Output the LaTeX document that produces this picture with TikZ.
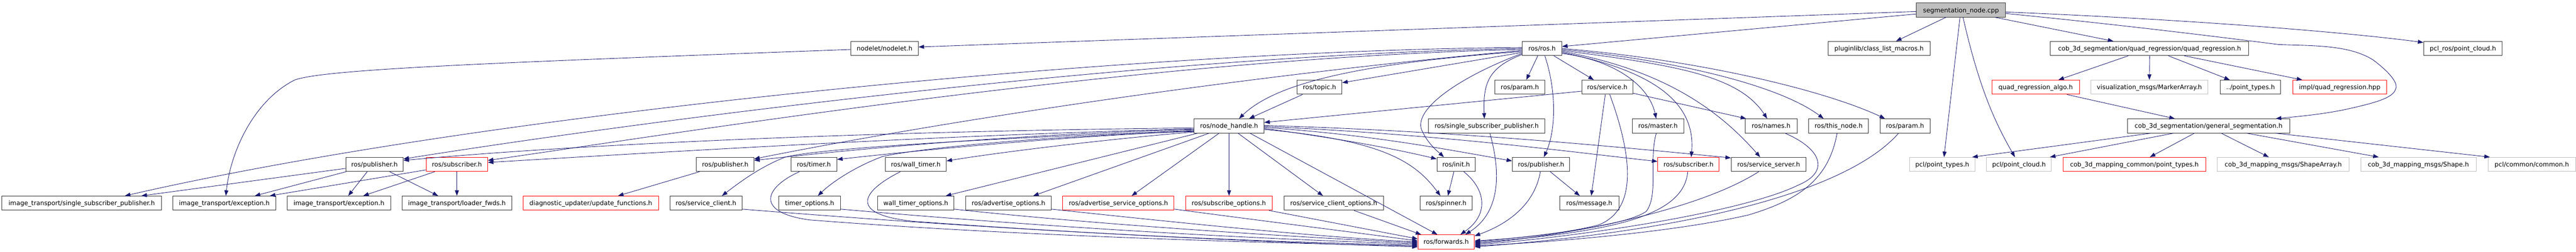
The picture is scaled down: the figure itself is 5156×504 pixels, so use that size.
\documentclass[tikz,border=0pt]{standalone}
\usepackage{fontspec}
\setmainfont{DejaVu Sans}
\usetikzlibrary{arrows.meta,calc}
\definecolor{edgec}{HTML}{191970}
\definecolor{bk}{HTML}{333333}
\definecolor{lg}{HTML}{BFBFBF}
\begin{document}
\begin{tikzpicture}[x=1pt,y=-1pt,
 box/.style={draw=bk,line width=1pt,rectangle,minimum height=28.3pt,inner sep=0pt,text height=9.5pt,text depth=0pt,font=\fontsize{12.6pt}{14pt}\selectfont},
 redbox/.style={box,draw=red},
 graybox/.style={box,draw=lg},
 arr/.style={draw=edgec,line width=0.9pt,-{Triangle[length=11pt,width=8pt]}}]
\useasboundingbox (0,0) rectangle (5156,504);
% row 0
\node[box,fill=lg,minimum width=178pt] (seg) at (3925,20) {segmentation\_node.cpp};
% row 1
\node[box,minimum width=135pt] (nodelet) at (1770.5,97) {nodelet/nodelet.h};
\node[box,minimum width=79pt] (ros) at (3086.5,97) {ros/ros.h};
\node[box,minimum width=204pt] (plugin) at (3761,97) {pluginlib/class\_list\_macros.h};
\node[box,minimum width=397pt] (quad) at (4302.5,97) {cob\_3d\_segmentation/quad\_regression/quad\_regression.h};
\node[box,minimum width=157pt] (pclros) at (4929.5,97) {pcl\_ros/point\_cloud.h};
% row 2
\node[box,minimum width=90pt] (topic) at (2641,174.5) {ros/topic.h};
\node[box,minimum width=100pt] (paramA) at (3042,174.5) {ros/param.h};
\node[box,minimum width=102pt] (service) at (3217,174.5) {ros/service.h};
\node[redbox,minimum width=175pt] (qalgo) at (4074.5,174.5) {quad\_regression\_algo.h};
\node[graybox,minimum width=234pt] (viz) at (4302,174.5) {visualization\_msgs/MarkerArray.h};
\node[box,minimum width=121pt] (ptypes) at (4504.5,174.5) {../point\_types.h};
\node[redbox,minimum width=188pt] (impl) at (4683,174.5) {impl/quad\_regression.hpp};
% row 3
\node[box,minimum width=140pt] (nh) at (2460,252) {ros/node\_handle.h};
\node[box,minimum width=233pt] (ssp) at (2975.5,252) {ros/single\_subscriber\_publisher.h};
\node[box,minimum width=103pt] (master) at (3318.5,252) {ros/master.h};
\node[box,minimum width=104pt] (names) at (3545,252) {ros/names.h};
\node[box,minimum width=120pt] (thisnode) at (3680,252) {ros/this\_node.h};
\node[box,minimum width=100pt] (paramB) at (3813,252) {ros/param.h};
\node[box,minimum width=325pt] (genseg) at (4420.5,252) {cob\_3d\_segmentation/general\_segmentation.h};
% row 4
\node[box,minimum width=115pt] (pubA) at (749.5,329) {ros/publisher.h};
\node[redbox,minimum width=123pt] (subA) at (914.5,329) {ros/subscriber.h};
\node[box,minimum width=115pt] (pubB) at (1451.5,329) {ros/publisher.h};
\node[box,minimum width=92pt] (timer) at (1629,329) {ros/timer.h};
\node[box,minimum width=122pt] (wtimer) at (1833,329) {ros/wall\_timer.h};
\node[box,minimum width=77pt] (init) at (2914.5,329) {ros/init.h};
\node[box,minimum width=115pt] (pubC) at (3084.5,329) {ros/publisher.h};
\node[redbox,minimum width=123pt] (subB) at (3379.5,329) {ros/subscriber.h};
\node[box,minimum width=150pt] (sserver) at (3540,329) {ros/service\_server.h};
\node[graybox,minimum width=131pt] (pclpt) at (3887.5,329) {pcl/point\_types.h};
\node[graybox,minimum width=130pt] (pclpc) at (4041,329) {pcl/point\_cloud.h};
\node[redbox,minimum width=286pt] (cobpt) at (4272,329) {cob\_3d\_mapping\_common/point\_types.h};
\node[graybox,minimum width=264pt] (shapearr) at (4570,329) {cob\_3d\_mapping\_msgs/ShapeArray.h};
\node[graybox,minimum width=231pt] (shape) at (4840.5,329) {cob\_3d\_mapping\_msgs/Shape.h};
\node[graybox,minimum width=175pt] (common) at (5067.5,329) {pcl/common/common.h};
% row 5
\node[box,minimum width=319pt] (itssp) at (163.5,406.5) {image\_transport/single\_subscriber\_publisher.h};
\node[box,minimum width=206pt] (excA) at (449,406.5) {image\_transport/exception.h};
\node[box,minimum width=207pt] (excB) at (678.5,406.5) {image\_transport/exception.h};
\node[box,minimum width=219pt] (loader) at (914.5,406.5) {image\_transport/loader\_fwds.h};
\node[redbox,minimum width=271pt] (diag) at (1182.5,406.5) {diagnostic\_updater/update\_functions.h};
\node[box,minimum width=144pt] (sclient) at (1413,406.5) {ros/service\_client.h};
\node[box,minimum width=123pt] (topt) at (1620.5,406.5) {timer\_options.h};
\node[box,minimum width=152pt] (wtopt) at (1833,406.5) {wall\_timer\_options.h};
\node[box,minimum width=171pt] (aopt) at (2018.5,406.5) {ros/advertise\_options.h};
\node[redbox,minimum width=223pt] (asopt) at (2238.5,406.5) {ros/advertise\_service\_options.h};
\node[redbox,minimum width=173pt] (sopt) at (2459.5,406.5) {ros/subscribe\_options.h};
\node[box,minimum width=199pt] (scopt) at (2669.5,406.5) {ros/service\_client\_options.h};
\node[box,minimum width=105pt] (spinner) at (2894.5,406.5) {ros/spinner.h};
\node[box,minimum width=118pt] (message) at (3181,406.5) {ros/message.h};
% row 6
\node[redbox,minimum width=113pt] (fwd) at (2894.5,484) {ros/forwards.h};

% ---- edges from segmentation_node.cpp
\draw[arr] ($(seg.west)+(0,3)$) -- ($(nodelet.east)+(0,-3)$);
\draw[arr] ($(seg.west)+(0,8)$) -- ($(ros.east)+(0,-4)$);
\draw[arr] ($(seg.south)+(-30,0)$) -- ($(plugin.north)+(34,0)$);
\draw[arr] ($(seg.south)+(68,0)$) -- ($(quad.north)+(-72.5,0)$);
\draw[arr] ($(seg.east)+(0,4)$) .. controls (4400,40) and (4700,65) .. ($(pclros.west)+(0,-12)$);
\draw[arr] ($(seg.east)+(0,7)$) .. controls (4250,50) and (4450,75) .. (4560,89)
  .. controls (4620,92) and (4700,88) .. (4750,120)
  .. controls (4790,150) and (4800,170) .. (4795,178)
  .. controls (4790,195) and (4760,205) .. (4690,220)
  .. controls (4640,230) and (4590,234) .. ($(genseg.north)+(134.5,0)$);
\draw[arr] ($(seg.south)+(-2,0)$) -- ($(pclpt.north)+(3.5,0)$);
\draw[arr] ($(seg.south)+(4,0)$) .. controls (3960,170) and (3990,240) .. ($(pclpc.north)+(-8,0)$);
% ---- quad_regression
\draw[arr] ($(quad.south)+(-42.5,0)$) -- ($(qalgo.north)+(45.5,0)$);
\draw[arr] (quad.south) -- (viz.north);
\draw[arr] ($(quad.south)+(37.5,0)$) -- ($(ptypes.north)+(-41.5,0)$);
\draw[arr] ($(quad.south)+(69.5,0)$) -- ($(impl.north)+(-75,0)$);
\draw[arr] ($(qalgo.south)+(62.5,0)$) -- ($(genseg.north)+(-67.5,0)$);
% ---- general_segmentation
\draw[arr] ($(genseg.south)+(-115.5,0)$) -- ($(pclpt.north)+(60,0)$);
\draw[arr] ($(genseg.south)+(-70.5,0)$) -- ($(pclpc.north)+(62,0)$);
\draw[arr] ($(genseg.south)+(-28.5,0)$) -- ($(cobpt.north)+(31,0)$);
\draw[arr] ($(genseg.south)+(25.5,0)$) -- ($(shapearr.north)+(-29,0)$);
\draw[arr] ($(genseg.south)+(76.5,0)$) -- ($(shape.north)+(-79.5,0)$);
\draw[arr] ($(genseg.south)+(134.5,0)$) -- ($(common.north)+(-84,0)$);
% ---- ros/ros.h
\draw[arr] ($(ros.south)+(-8.5,0)$) -- ($(paramA.north)+(13,0)$);
\draw[arr] ($(ros.south)+(23.5,0)$) -- ($(service.north)+(-27,0)$);
\draw[arr] ($(ros.south)+(5.5,0)$) .. controls (3115,180) and (3115,260) .. ($(pubC.north)+(5.5,0)$);
\draw[arr] ($(ros.west)+(0,12)$) .. controls (2980,135) and (2968,165) .. ($(ssp.north)+(-4.5,0)$);
\draw[arr] ($(ros.west)+(0,10)$) .. controls (2930,150) and (2820,220) .. (2848,265)
  .. controls (2860,290) and (2880,305) .. ($(init.north)+(-24.5,0)$);
\draw[arr] ($(ros.west)+(0,8)$) -- ($(topic.east)+(0,-9)$);
\draw[arr] ($(ros.west)+(0,6)$) .. controls (2750,125) and (2560,160) .. ($(nh.north)+(20,0)$);
\draw[arr] ($(ros.west)+(0,-2)$) .. controls (2300,100) and (1000,220) .. ($(itssp.north)+(86.5,0)$);
\draw[arr] ($(ros.west)+(0,0)$) .. controls (2300,110) and (1300,240) .. ($(pubA.east)+(0,-11)$);
\draw[arr] ($(ros.west)+(0,2)$) .. controls (2300,115) and (1400,260) .. ($(subA.east)+(0,-8)$);
\draw[arr] ($(ros.west)+(0,4)$) .. controls (2500,150) and (1900,240) .. ($(pubB.east)+(0,-11)$);
\draw[arr] ($(ros.east)+(0,10)$) .. controls (3230,120) and (3300,170) .. ($(master.north)+(-3.5,0)$);
\draw[arr] ($(ros.east)+(0,8)$) .. controls (3300,140) and (3395,200) .. ($(subB.north)+(5.5,0)$);
\draw[arr] ($(ros.east)+(0,6)$) .. controls (3330,140) and (3440,220) .. ($(sserver.north)+(-17,0)$);
\draw[arr] ($(ros.east)+(0,4)$) .. controls (3350,130) and (3480,150) .. ($(names.north)+(-8,0)$);
\draw[arr] ($(ros.east)+(0,2)$) .. controls (3350,120) and (3560,170) .. ($(thisnode.north)+(-30,0)$);
\draw[arr] ($(ros.east)+(0,0)$) .. controls (3400,120) and (3650,180) .. ($(paramB.north)+(-40,0)$);
% ---- nodelet
\draw[arr] ($(nodelet.west)+(0,2)$) .. controls (1000,125) and (650,138) .. (590,160)
  .. controls (510,200) and (462,300) .. ($(excA.north)+(3,0)$);
% ---- image_transport publisher / subscriber
\draw[arr] ($(pubA.west)+(0,8)$) -- ($(itssp.north)+(119.5,0)$);
\draw[arr] ($(pubA.south)+(-57,0)$) -- ($(excA.north)+(61,0)$);
\draw[arr] ($(pubA.south)+(-14.5,0)$) -- ($(excB.north)+(18.5,0)$);
\draw[arr] ($(pubA.south)+(30.5,0)$) -- ($(loader.north)+(-37.5,0)$);
\draw[arr] ($(subA.west)+(0,11)$) -- ($(excA.north)+(91,0)$);
\draw[arr] ($(subA.south)+(-44.5,0)$) -- ($(excB.north)+(48.5,0)$);
\draw[arr] (subA.south) -- (loader.north);
\draw[arr] ($(pubB.south)+(-51.5,0)$) -- ($(diag.north)+(54.5,0)$);
% ---- node_handle
\draw[arr] ($(nh.west)+(0,4)$) .. controls (1800,262) and (1200,285) .. ($(pubA.east)+(0,-8)$);
\draw[arr] ($(nh.west)+(0,6)$) .. controls (1900,270) and (1400,300) .. ($(subA.east)+(0,-4)$);
\draw[arr] ($(nh.west)+(0,7)$) .. controls (2000,270) and (1700,300) .. ($(pubB.east)+(0,-8)$);
\draw[arr] ($(nh.west)+(0,9)$) .. controls (1900,280) and (1620,300) .. (1570,315)
  .. controls (1520,335) and (1480,365) .. ($(sclient.north)+(32,0)$);
\draw[arr] ($(nh.west)+(0,10)$) .. controls (2100,275) and (1850,300) .. ($(timer.east)+(0,-10)$);
\draw[arr] ($(nh.west)+(0,11)$) .. controls (2100,272) and (1850,295) .. (1767,313)
  .. controls (1720,330) and (1670,360) .. ($(topt.north)+(16.5,0)$);
\draw[arr] ($(nh.west)+(0,12)$) .. controls (2200,280) and (2000,305) .. ($(wtimer.east)+(0,-7)$);
\draw[arr] ($(nh.south)+(-63,0)$) -- ($(wtopt.north)+(60,0)$);
\draw[arr] ($(nh.south)+(-40,0)$) -- ($(aopt.north)+(49.5,0)$);
\draw[arr] ($(nh.south)+(-20,0)$) -- ($(asopt.north)+(26.5,0)$);
\draw[arr] (nh.south) -- ($(sopt.north)+(0.5,0)$);
\draw[arr] ($(nh.south)+(18,0)$) -- ($(scopt.north)+(-21.5,0)$);
\draw[arr] ($(nh.south)+(42,0)$) -- ($(fwd.north)+(-17.5,0)$);
\draw[arr] ($(nh.east)+(0,7)$) .. controls (2760,280) and (2830,320) .. ($(spinner.north)+(-11.5,0)$);
\draw[arr] ($(nh.east)+(0,5)$) .. controls (2700,280) and (2800,300) .. ($(init.west)+(0,-11)$);
\draw[arr] ($(nh.east)+(0,3)$) .. controls (2750,270) and (2900,300) .. ($(pubC.west)+(0,-7)$);
\draw[arr] ($(nh.east)+(0,1)$) .. controls (2900,270) and (3150,305) .. ($(subB.west)+(0,-6)$);
\draw[arr] ($(nh.east)+(0,-1)$) .. controls (2900,262) and (3200,290) .. ($(sserver.west)+(0,-13)$);
% ---- into node_handle
\draw[arr] ($(service.west)+(0,8)$) -- ($(nh.east)+(0,-7)$);
\draw[arr] ($(topic.south)+(-34,0)$) -- ($(nh.north)+(40,0)$);
% ---- middle
\draw[arr] ($(init.south)+(-4.5,0)$) -- ($(spinner.north)+(3.5,0)$);
\draw[arr] ($(init.south)+(15.5,0)$) .. controls (2975,380) and (2980,430) .. ($(fwd.north)+(28.5,0)$);
\draw[arr] ($(ssp.south)+(6.5,0)$) .. controls (3000,330) and (3010,420) .. ($(fwd.north)+(38.5,0)$);
\draw[arr] ($(pubC.south)+(-1.5,0)$) .. controls (3070,420) and (3000,455) .. ($(fwd.east)+(0,-12)$);
\draw[arr] ($(pubC.south)+(18.5,0)$) -- ($(message.north)+(-19,0)$);
\draw[arr] ($(service.south)+(-4,0)$) -- ($(message.north)+(4,0)$);
\draw[arr] ($(service.east)+(0,12)$) -- ($(names.north)+(-50,0)$);
\draw[arr] ($(service.south)+(5,0)$) .. controls (3270,320) and (3275,420) .. (3200,450)
  .. controls (3120,470) and (3020,478) .. ($(fwd.east)+(0,-2)$);
\draw[arr] ($(master.south)+(-3.5,0)$) .. controls (3300,320) and (3320,390) .. (3295,423)
  .. controls (3250,455) and (3050,475) .. ($(fwd.east)+(0,0)$);
\draw[arr] ($(subB.south)+(-1.5,0)$) .. controls (3370,440) and (3200,465) .. ($(fwd.east)+(0,2)$);
\draw[arr] ($(sserver.south)+(-20,0)$) .. controls (3400,420) and (3150,470) .. ($(fwd.east)+(0,4)$);
\draw[arr] ($(names.south)+(28,0)$) .. controls (3650,300) and (3660,345) .. (3600,370)
  .. controls (3500,420) and (3200,470) .. ($(fwd.east)+(0,6)$);
\draw[arr] ($(thisnode.south)+(-3,0)$) .. controls (3660,360) and (3600,400) .. (3500,430)
  .. controls (3350,465) and (3100,485) .. ($(fwd.east)+(0,8)$);
\draw[arr] ($(paramB.south)+(-13,0)$) .. controls (3700,380) and (3400,460) .. ($(fwd.east)+(0,10)$);
% ---- left side into forwards
\draw[arr] ($(sclient.east)+(0,12)$) .. controls (2000,460) and (2500,485) .. ($(fwd.west)+(0,6)$);
\draw[arr] ($(timer.south)+(-29,0)$) .. controls (1530,375) and (1510,425) .. (1620,440)
  .. controls (2000,470) and (2500,486) .. ($(fwd.west)+(0,8)$);
\draw[arr] ($(topt.east)+(0,12)$) .. controls (2100,455) and (2500,478) .. ($(fwd.west)+(0,4)$);
\draw[arr] ($(wtimer.south)+(-31,0)$) .. controls (1720,385) and (1700,430) .. (1830,443)
  .. controls (2200,470) and (2600,487) .. ($(fwd.west)+(0,10)$);
\draw[arr] ($(wtopt.east)+(0,12)$) .. controls (2200,450) and (2600,475) .. ($(fwd.west)+(0,2)$);
\draw[arr] ($(aopt.east)+(0,12)$) .. controls (2400,450) and (2650,475) .. ($(fwd.west)+(0,0)$);
\draw[arr] ($(asopt.east)+(0,12)$) .. controls (2550,445) and (2750,470) .. ($(fwd.west)+(0,-2)$);
\draw[arr] ($(sopt.south)+(80.5,0)$) -- ($(fwd.west)+(0,-6)$);
\draw[arr] ($(scopt.south)+(40.5,0)$) -- ($(fwd.north)+(-50,0)$);
\end{tikzpicture}
\end{document}
